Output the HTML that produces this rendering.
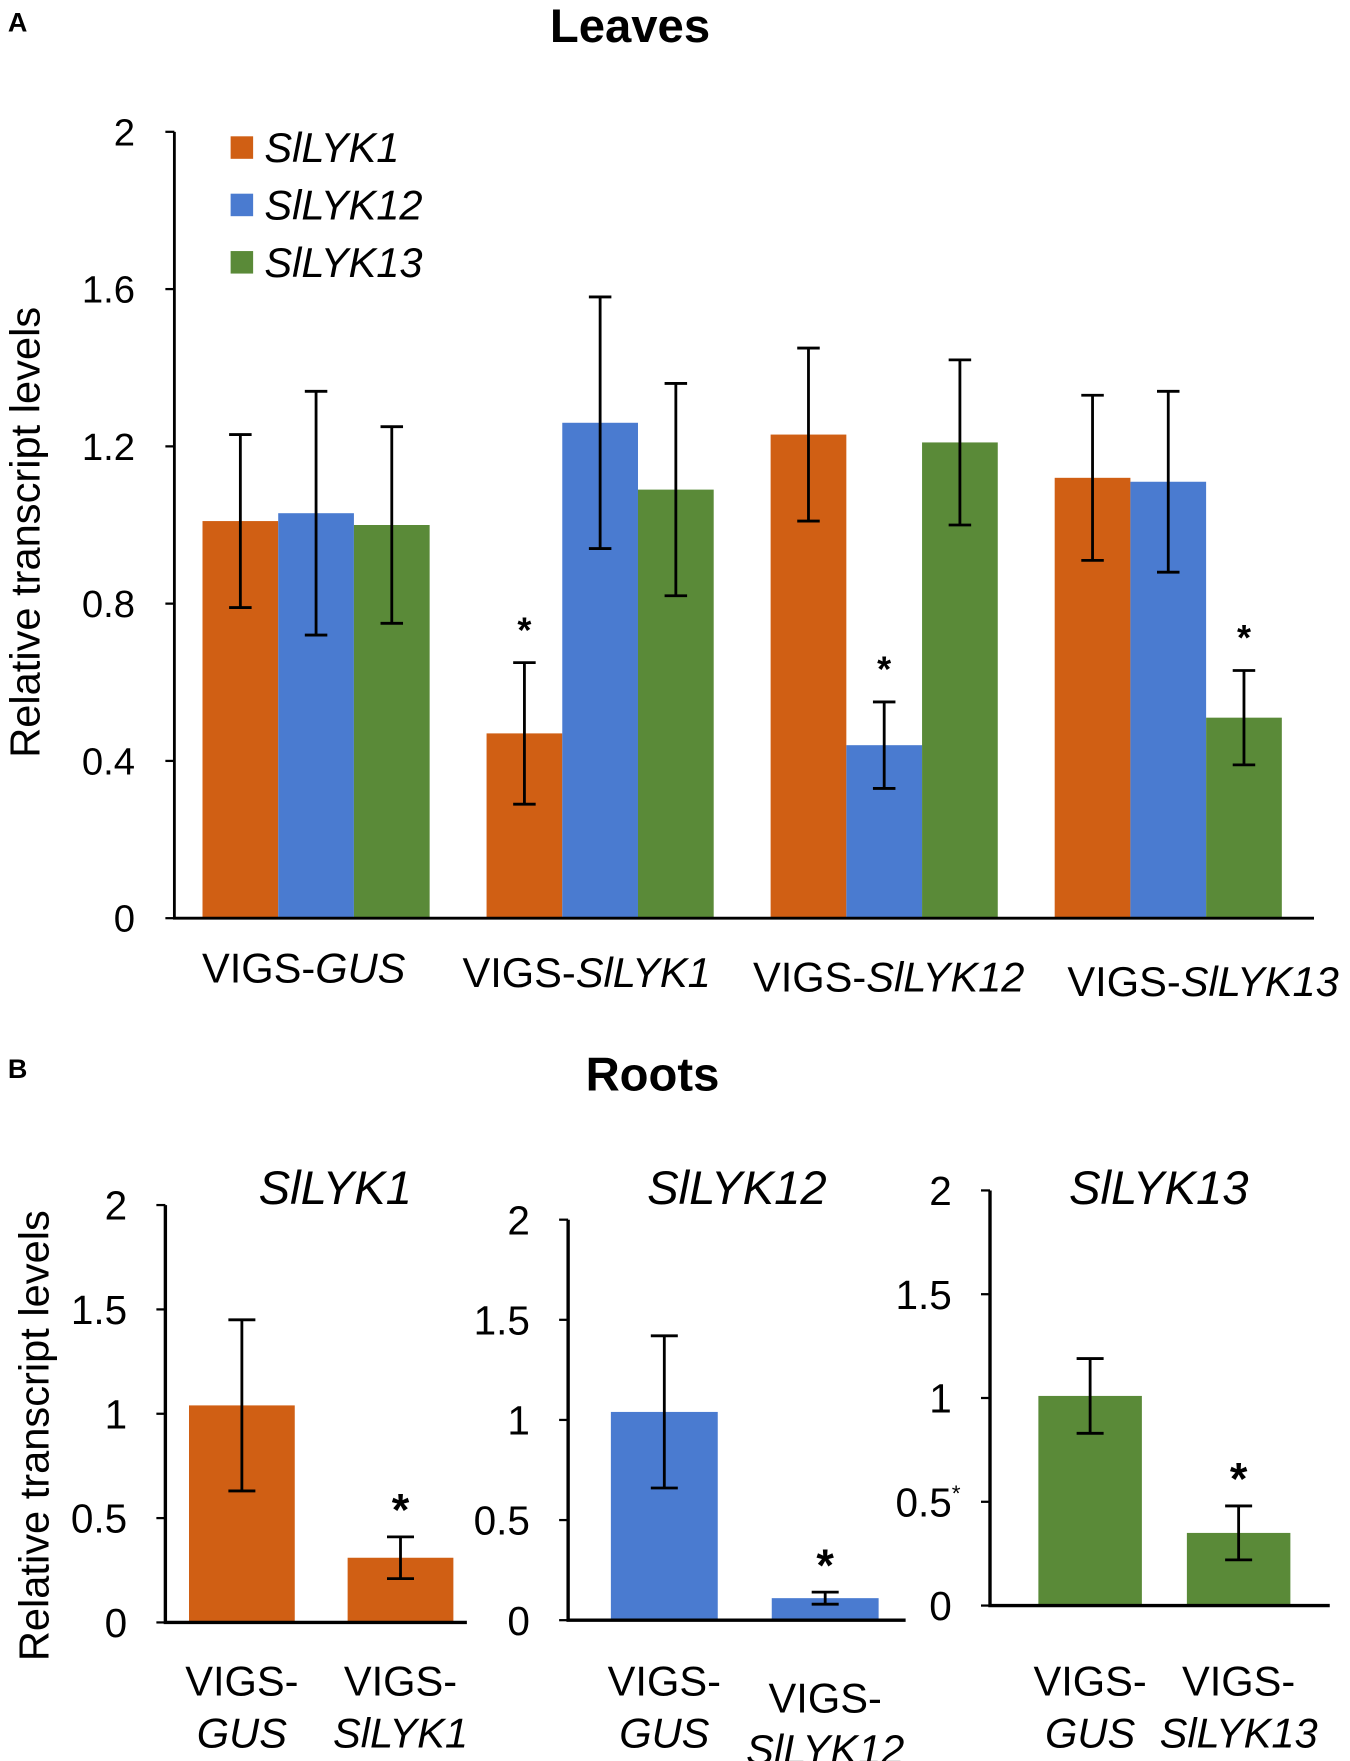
<!DOCTYPE html>
<html><head><meta charset="utf-8"><style>
html,body{margin:0;padding:0;background:#fff;}
svg{display:block;font-family:"Liberation Sans",Arial,sans-serif;}
</style></head><body>
<svg id="fig" width="1350" height="1761" viewBox="0 0 1200 1565" xmlns="http://www.w3.org/2000/svg">
<rect width="1200" height="1565" fill="#fff"/>
<text x="7" y="28" font-size="24" font-weight="bold">A</text>
<text x="560" y="37" font-size="42" font-weight="bold" text-anchor="middle">Leaves</text>
<text x="7" y="958" font-size="24" font-weight="bold">B</text>
<text x="580" y="969" font-size="42" font-weight="bold" text-anchor="middle">Roots</text>
<g id="gA"></g><g id="gB"></g>
</svg>
<script>
const NS="http://www.w3.org/2000/svg";
const COLORS=["#D05F14","#4A7BD0","#5A8A38"];
// Panel A data
const catsA=["GUS","SlLYK1","SlLYK12","SlLYK13"];
const seriesA=["SlLYK1","SlLYK12","SlLYK13"];
const valsA1=[1.01,0.47,1.23,1.12];
const valsA12=[1.03,1.26,0.44,1.11];
const valsA13=[1.00,1.09,1.21,0.51];
const errA1=[0.22,0.18,0.22,0.21];
const errA12=[0.31,0.32,0.11,0.23];
const errA13=[0.25,0.27,0.21,0.12];
const starA1=[false,true,false,false];
const starA12=[false,false,true,false];
const starA13=[false,false,false,true];
const ticksA=[0,0.4,0.8,1.2,1.6,2];
// Panel B data
const rootGenes=["SlLYK1","SlLYK12","SlLYK13"];
const rootCats=[["GUS","SlLYK1"],["GUS","SlLYK12"],["GUS","SlLYK13"]];
const rootVals=[[1.04,0.31],[1.04,0.11],[1.01,0.35]];
const rootErr=[[0.41,0.10],[0.38,0.03],[0.18,0.13]];
const rootStar=[[false,true],[false,true],[false,true]];
const ticksB=[0,0.5,1,1.5,2];

function mk(tag,attrs,parent,txt){const e=document.createElementNS(NS,tag);for(const k in attrs)e.setAttribute(k,attrs[k]);if(txt!==undefined)e.textContent=txt;parent.appendChild(e);return e;}
function errbar(g,x,y0,y1,cap){
  const e=mk('path',{d:`M${x-cap},${y0}H${x+cap}M${x},${y0}V${y1}M${x-cap},${y1}H${x+cap}`,stroke:'#000','stroke-width':2.5,fill:'none'},g);
  
  
}
function vigsLabel(g,x,y,gene,fs,anchor){
  const t=mk('text',{x:x,y:y,'font-size':fs,'text-anchor':anchor||'middle'},g);
  
  
  mk('tspan',{},t,'VIGS-');mk('tspan',{'font-style':'italic'},t,gene);
}
// Panel A
(function(){
  const g=document.getElementById('gA');
  const ax=155,y0=816,y2=117,xEnd=1168;
  const y=v=>y0-(v/2)*(y0-y2);
  const gx0=180,gstep=252.5,bw=67.3;
  const labShift=[-11,-12,4,31];
  ticksA.forEach(t=>{
    const tk=mk('line',{x1:ax-8,x2:ax,y1:y(t),y2:y(t),stroke:'#000','stroke-width':2},g);
    
    const l=mk('text',{x:120,y:y(t)+12,'font-size':34,'text-anchor':'end'},g,String(t));
    
  });
  const vals=[valsA1,valsA12,valsA13],errs=[errA1,errA12,errA13],stars=[starA1,starA12,starA13];
  catsA.forEach((c,i)=>{
    for(let s=0;s<3;s++){
      const x=gx0+i*gstep+s*bw,v=vals[s][i];
      const r=mk('rect',{x:x,y:y(v),width:bw,height:y0-y(v),fill:COLORS[s]},g);
      
      
      const cx=x+bw/2;
      errbar(g,cx,y(v+errs[s][i]),y(v-errs[s][i]),10);
      if(stars[s][i]){const st=mk('text',{x:cx,y:y(v+errs[s][i])-18,'font-size':32,'font-weight':'bold','text-anchor':'middle'},g,'*');
        }
    }
    vigsLabel(g,gx0+i*gstep+bw*1.5+labShift[i],873+i*4,c,37);
  });
  const axl=mk('path',{d:`M${ax},${y2}V${y0}H${xEnd}`,stroke:'#000','stroke-width':2.5,fill:'none'},g);
  
  const yt=mk('text',{transform:'translate(35,473) rotate(-90)','font-size':37,'text-anchor':'middle'},g,'Relative transcript levels');
  
  seriesA.forEach((s,i)=>{
    const sq=mk('rect',{x:205,y:121+i*51,width:20,height:20,fill:COLORS[i]},g);
    
    const t=mk('text',{x:235,y:144+i*51,'font-size':37,'font-style':'italic'},g,s);
    
  });
})();
// Panel B
(function(){
  const g=document.getElementById('gB');
  const panels=[{ax:147,y0:1442,y2:1071,xe:415,b:[168,309],bw:94,tx:298,lab:[1495,1495]},
                {ax:505,y0:1440,y2:1084,xe:805,b:[543,686],bw:95,tx:655,lab:[1495,1510]},
                {ax:880,y0:1427,y2:1058,xe:1182,b:[923,1055],bw:92,tx:1030,lab:[1495,1495]}];
  panels.forEach((p,k)=>{
    const y=v=>p.y0-(v/2)*(p.y0-p.y2);
    ticksB.forEach(t=>{
      const tk=mk('line',{x1:p.ax-8,x2:p.ax,y1:y(t),y2:y(t),stroke:'#000','stroke-width':2},g);
      
      const l=mk('text',{x:p.ax-34,y:y(t)+13,'font-size':36,'text-anchor':'end'},g,String(t));
      
    });
    for(let j=0;j<2;j++){
      const v=rootVals[k][j],x=p.b[j];
      const r=mk('rect',{x:x,y:y(v),width:p.bw,height:p.y0-y(v),fill:COLORS[k]},g);
      
      
      const cx=x+p.bw/2;
      errbar(g,cx,y(v+rootErr[k][j]),y(v-rootErr[k][j]),12);
      if(rootStar[k][j]){const st=mk('text',{x:cx,y:y(v+rootErr[k][j])-10,'font-size':40,'font-weight':'bold','text-anchor':'middle'},g,'*');
        }
      const lt=mk('text',{x:cx,y:p.lab[j]+12,'font-size':37,'text-anchor':'middle'},g,'VIGS-');
      
      const lt2=mk('text',{x:cx,y:p.lab[j]+58,'font-size':37,'font-style':'italic','text-anchor':'middle'},g,rootCats[k][j]);
      
    }
    const axl=mk('path',{d:`M${p.ax},${p.y2}V${p.y0}H${p.xe}`,stroke:'#000','stroke-width':3,fill:'none'},g);
    
    const tt=mk('text',{x:p.tx,y:1070,'font-size':42,'font-style':'italic','text-anchor':'middle'},g,rootGenes[k]);
    
  });
  const yt=mk('text',{transform:'translate(43,1276) rotate(-90)','font-size':37,'text-anchor':'middle'},g,'Relative transcript levels');
  
  const sm=mk('text',{x:846,y:1334,'font-size':20},g,'*');
  
})();
</script>
</body></html>
